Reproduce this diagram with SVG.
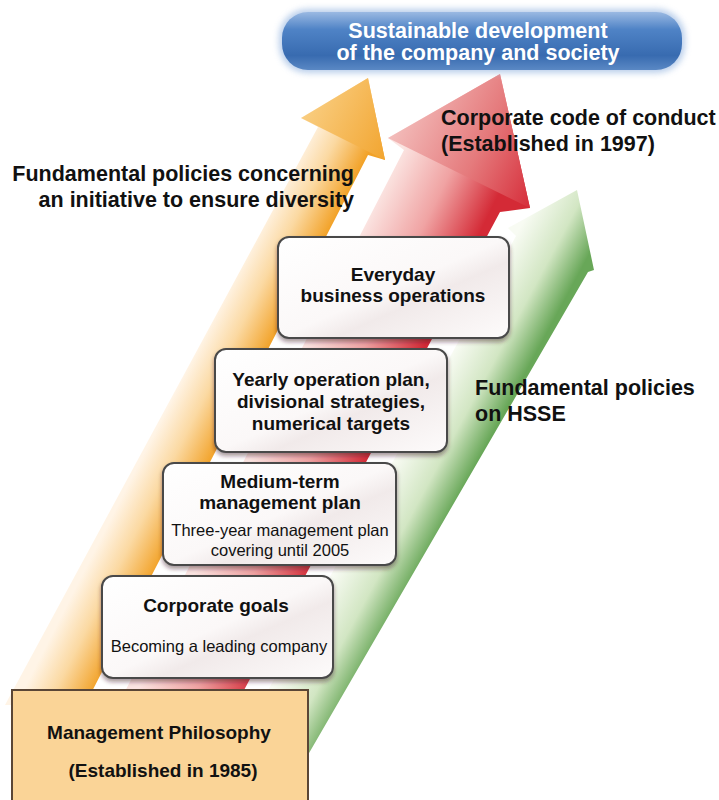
<svg xmlns="http://www.w3.org/2000/svg" width="719" height="800" viewBox="0 0 719 800">
<style>
  .lbl { font-family: "Liberation Sans", Arial, sans-serif; font-weight: bold; font-size: 21.5px; fill: #111; }
  .ban { font-family: "Liberation Sans", Arial, sans-serif; font-weight: bold; font-size: 21.5px; fill: #fff; text-anchor: middle; }
  .bt { font-family: "Liberation Sans", Arial, sans-serif; font-weight: bold; font-size: 19px; fill: #111; text-anchor: middle; }
  .st { font-family: "Liberation Sans", Arial, sans-serif; font-size: 16.5px; fill: #111; text-anchor: middle; }
  .box { fill: url(#boxg); stroke: #4a4a4a; stroke-width: 2; filter: url(#shadow); }
</style>
<defs>
  <linearGradient id="og" gradientUnits="userSpaceOnUse" x1="171" y1="400" x2="228" y2="429">
    <stop offset="0" stop-color="#fff4e6"/>
    <stop offset="0.45" stop-color="#fbd9a2"/>
    <stop offset="1" stop-color="#f2a228"/>
  </linearGradient>
  <linearGradient id="ogh" gradientUnits="userSpaceOnUse" x1="301" y1="118" x2="385" y2="160">
    <stop offset="0" stop-color="#f9cd80"/>
    <stop offset="1" stop-color="#f2a530"/>
  </linearGradient>
  <linearGradient id="rg" gradientUnits="userSpaceOnUse" x1="279" y1="400" x2="375" y2="447">
    <stop offset="0" stop-color="#fbe4e1"/>
    <stop offset="0.5" stop-color="#f0a3a3"/>
    <stop offset="1" stop-color="#d42a36"/>
  </linearGradient>
  <linearGradient id="rgh" gradientUnits="userSpaceOnUse" x1="388" y1="138" x2="530" y2="208">
    <stop offset="0" stop-color="#f3bdbb"/>
    <stop offset="0.55" stop-color="#e57a7c"/>
    <stop offset="1" stop-color="#d62d3a"/>
  </linearGradient>
  <linearGradient id="gg" gradientUnits="userSpaceOnUse" x1="400" y1="450" x2="465" y2="485">
    <stop offset="0" stop-color="#f8fbf3"/>
    <stop offset="0.55" stop-color="#d2e6c3"/>
    <stop offset="1" stop-color="#68a758"/>
  </linearGradient>
  <linearGradient id="blue" x1="0" y1="0" x2="0" y2="1">
    <stop offset="0" stop-color="#9ab9e2"/>
    <stop offset="0.3" stop-color="#4f83c6"/>
    <stop offset="0.75" stop-color="#386bb0"/>
    <stop offset="1" stop-color="#5a88c4"/>
  </linearGradient>
  <linearGradient id="boxg" x1="0" y1="0" x2="1" y2="1">
    <stop offset="0" stop-color="#ffffff"/>
    <stop offset="0.5" stop-color="#fbf8f8"/>
    <stop offset="0.62" stop-color="#f1eaea"/>
    <stop offset="1" stop-color="#fdfbfb"/>
  </linearGradient>
  <filter id="shadow" x="-10%" y="-10%" width="120%" height="130%">
    <feDropShadow dx="0" dy="3" stdDeviation="2" flood-color="#3a1f22" flood-opacity="0.45"/>
  </filter>
  <filter id="glow" x="-10%" y="-30%" width="120%" height="160%">
    <feGaussianBlur stdDeviation="3"/>
  </filter>
</defs>

<g id="connectors">
  <g id="arrow-orange">
    <polygon points="5,705 318,127 301,118 368,78 385,160 368,155 85,705" fill="url(#og)"/>
    <polygon points="301,118 368,78 385,160" fill="url(#ogh)"/>
  </g>
  <g id="arrow-red">
    <polygon points="118,705 404,150 388,138 500,74 530,208 500,212 236,705" fill="url(#rg)"/>
    <polygon points="388,138 500,74 530,208" fill="url(#rgh)"/>
  </g>
  <g id="arrow-green">
    <polygon points="230,760 516,236 508,228 577,190 594,270 588,272 305,760" fill="url(#gg)"/>
  </g>
</g>

<g id="banner">
  <rect x="279" y="9" width="406" height="64" rx="28" fill="#a9c3e6" opacity="0.8" filter="url(#glow)"/>
  <rect x="282" y="12" width="400" height="58" rx="26" fill="url(#blue)"/>
  <text class="ban" x="478" y="38">Sustainable development</text>
  <text class="ban" x="478" y="60">of the company and society</text>
</g>

<g id="label-diversity">
  <text class="lbl" x="354" y="181" text-anchor="end">Fundamental policies concerning</text>
  <text class="lbl" x="354" y="207" text-anchor="end">an initiative to ensure diversity</text>
</g>

<g id="label-code">
  <text class="lbl" x="441" y="125">Corporate code of conduct</text>
  <text class="lbl" x="441" y="151">(Established in 1997)</text>
</g>

<g id="label-hsse">
  <text class="lbl" x="475" y="395">Fundamental policies</text>
  <text class="lbl" x="475" y="421">on HSSE</text>
</g>

<g id="box-everyday">
  <rect class="box" x="278" y="237" width="231" height="101" rx="11"/>
  <text class="bt" x="393" y="281">Everyday</text>
  <text class="bt" x="393" y="302">business operations</text>
</g>

<g id="box-yearly">
  <rect class="box" x="215" y="349" width="232" height="103" rx="11"/>
  <text class="bt" x="331" y="386">Yearly operation plan,</text>
  <text class="bt" x="331" y="408">divisional strategies,</text>
  <text class="bt" x="331" y="430">numerical targets</text>
</g>

<g id="box-medium">
  <rect class="box" x="163" y="463" width="233" height="102" rx="11"/>
  <text class="bt" x="280" y="488">Medium-term</text>
  <text class="bt" x="280" y="509">management plan</text>
  <text class="st" x="280" y="536">Three-year management plan</text>
  <text class="st" x="280" y="556">covering until 2005</text>
</g>

<g id="box-goals">
  <rect class="box" x="102" y="576" width="231" height="102" rx="11"/>
  <text class="bt" x="216" y="612">Corporate goals</text>
  <text class="st" x="219" y="652">Becoming a leading company</text>
</g>

<g id="box-philosophy">
  <rect x="12" y="690" width="296" height="115" fill="#fad497" stroke="#5a4636" stroke-width="2"/>
  <text class="bt" x="159" y="739">Management Philosophy</text>
  <text class="bt" x="163" y="777">(Established in 1985)</text>
</g>
</svg>
